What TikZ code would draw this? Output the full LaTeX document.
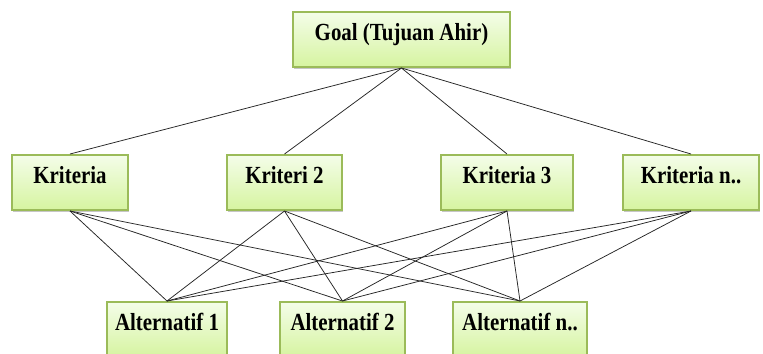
\documentclass[tikz,border=0pt]{standalone}
\usepackage{fontspec}
\setmainfont{Liberation Serif}[FakeStretch=0.85]
\usepackage{xcolor}
\usetikzlibrary{shadows}
\definecolor{kotakhijau}{HTML}{9BBB59}
\definecolor{isiatas}{HTML}{F4FDE9}
\definecolor{isibawah}{HTML}{D6F4A0}

\begin{document}
\begin{tikzpicture}[x=0.03cm,y=-0.03cm,
		kotak/.style={draw=kotakhijau, line width=1.7pt, top color=isiatas, bottom color=isibawah,
			drop shadow={shadow xshift=0.6pt, shadow yshift=-1.4pt, opacity=0.45},
			minimum height=1.65cm, inner sep=2pt, text height=14pt, text depth=12pt,
			font=\fontsize{21}{24}\selectfont\bfseries},
		garis/.style={draw=black!85, line width=0.65pt}]
		\useasboundingbox (0,0) rectangle (763,353);
		
		\node[kotak, minimum width=6.51cm] (goal) at (401.5,39.5) {Goal (Tujuan Ahir)};
		
		\node[kotak, minimum width=3.48cm] (k1) at (70,182.5) {Kriteria};
		\node[kotak, minimum width=3.45cm] (k2) at (284.5,182.5) {Kriteri 2};
		\node[kotak, minimum width=3.96cm] (k3) at (507,182.5) {Kriteria 3};
		\node[kotak, minimum width=4.08cm] (kn) at (691,182.5) {Kriteria n..};
		
		\node[kotak, minimum width=3.6cm] (a1) at (167,329.5) {Alternatif 1};
		\node[kotak, minimum width=3.75cm] (a2) at (342.5,329.5) {Alternatif 2};
		\node[kotak, minimum width=4.02cm] (an) at (520,329.5) {Alternatif n..};
		
		\draw[garis] (goal.south) -- (k1.north);
		\draw[garis] (goal.south) -- (k2.north);
		\draw[garis] (goal.south) -- (k3.north);
		\draw[garis] (goal.south) -- (kn.north);
		
		\draw[garis] (k1.south) -- (a1.north);
		\draw[garis] (k1.south) -- (a2.north);
		\draw[garis] (k1.south) -- (an.north);
		\draw[garis] (k2.south) -- (a1.north);
		\draw[garis] (k2.south) -- (a2.north);
		\draw[garis] (k2.south) -- (an.north);
		\draw[garis] (k3.south) -- (a1.north);
		\draw[garis] (k3.south) -- (a2.north);
		\draw[garis] (k3.south) -- (an.north);
		\draw[garis] (kn.south) -- (a1.north);
		\draw[garis] (kn.south) -- (a2.north);
		\draw[garis] (kn.south) -- (an.north);
	\end{tikzpicture}
\end{document}
